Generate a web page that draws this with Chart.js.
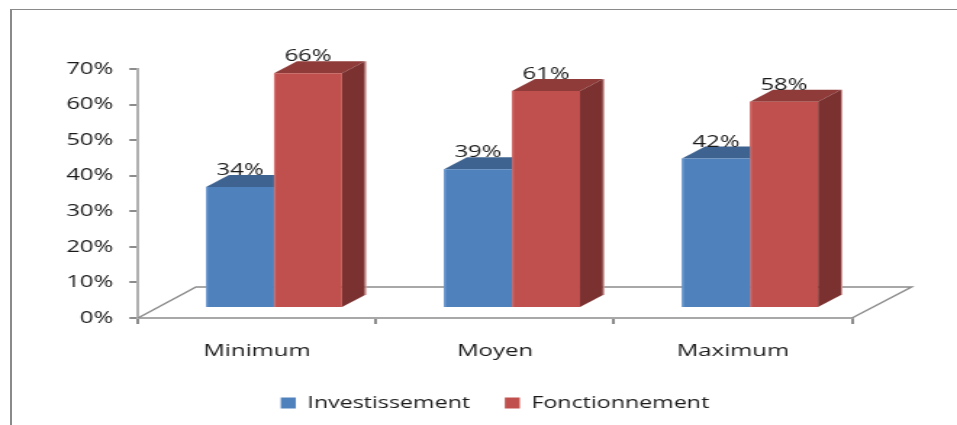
<!DOCTYPE html>
<html>
<head>
<meta charset="utf-8">
<script src="https://cdn.jsdelivr.net/npm/chart.js@4"></script>
<style>
  html, body { margin: 0; padding: 0; background: #fff; }
  #wrap { position: relative; width: 957px; height: 425px; overflow: hidden; }
  #frame { position: absolute; left: 10px; top: 9px; width: 947px; height: 416px;
           border-left: 2px solid #8a8a8a; border-top: 1px solid #8a8a8a; box-sizing: border-box; }
  /* l'original est étiré en largeur : on étire le canvas de la même façon */
  canvas { position: absolute; left: 0; top: 0; transform: scale(1.45, 1); transform-origin: 0 0; }
</style>
</head>
<body>
<div id="wrap">
  <div id="frame"></div>
  <canvas id="chart" width="660" height="425"></canvas>
</div>
<script>
// Données
const categories = ['Minimum', 'Moyen', 'Maximum'];
const investissement = [34, 39, 42];
const fonctionnement = [66, 61, 58];

const BLUE = '#4f81bd', RED = '#c0504d';
const faces = {
  [BLUE]: { top: '#3f6390', side: '#3a5c86', edge: '#6f9bd0' },
  [RED]: { top: '#8f3b39', side: '#7a3130', edge: '#d26c69' }
};
const FONT = 'Open Sans';
const SX = 1.45; // étirement horizontal du canvas

// Décalage des barres par rapport au plancher, et profondeur du 3D
const shiftX = 17 / SX, shiftY = -10;
const depthX = 23 / SX, depthY = 12;
const floorX = 58 / SX, floorY = 31;

const pseudo3d = {
  id: 'pseudo3d',
  beforeDatasetsDraw(chart) {
    const { ctx, chartArea: a } = chart;
    // plancher
    ctx.save();
    ctx.strokeStyle = '#8c8c8c';
    ctx.lineWidth = 1.5;
    ctx.beginPath();
    ctx.moveTo(a.left, a.bottom);
    ctx.lineTo(a.left + floorX, a.bottom - floorY);
    ctx.lineTo(a.right + floorX + 1, a.bottom - floorY);
    ctx.lineTo(a.right, a.bottom);
    ctx.stroke();
    ctx.restore();
    ctx.save();
    ctx.translate(shiftX, shiftY);
  },
  beforeDatasetDraw(chart, args) {
    const { ctx } = chart;
    const color = chart.data.datasets[args.index].backgroundColor;
    const f = faces[color];
    // seule la dernière série du groupe montre son côté, les autres sont cachées par leur voisine
    const last = args.index === chart.data.datasets.length - 1;
    args.meta.data.forEach(bar => {
      const l = bar.x - bar.width / 2, r = bar.x + bar.width / 2;
      ctx.fillStyle = f.top;
      ctx.beginPath();
      ctx.moveTo(l, bar.y);
      ctx.lineTo(l + depthX, bar.y - depthY);
      ctx.lineTo(last ? r + depthX : r, bar.y - depthY);
      ctx.lineTo(r, bar.y);
      ctx.closePath();
      ctx.fill();
      if (last) {
        ctx.fillStyle = f.side;
        ctx.beginPath();
        ctx.moveTo(r, bar.y);
        ctx.lineTo(r + depthX, bar.y - depthY);
        ctx.lineTo(r + depthX, bar.base - depthY);
        ctx.lineTo(r, bar.base);
        ctx.closePath();
        ctx.fill();
        // liseré clair à droite
        ctx.fillStyle = '#cf9a98';
        ctx.fillRect(r + depthX, bar.y - depthY, 1, bar.base - bar.y);
      }
    });
  },
  afterDatasetDraw(chart, args) {
    const { ctx } = chart;
    const color = chart.data.datasets[args.index].backgroundColor;
    args.meta.data.forEach(bar => {
      ctx.fillStyle = faces[color].edge;
      ctx.fillRect(bar.x - bar.width / 2, bar.y, 1.2, bar.base - bar.y);
    });
  },
  afterDatasetsDraw(chart) {
    const { ctx } = chart;
    // étiquettes de valeur
    ctx.font = '16.5px "' + FONT + '"';
    ctx.fillStyle = '#1a1a1a';
    ctx.textAlign = 'center';
    ctx.textBaseline = 'alphabetic';
    chart.data.datasets.forEach((ds, i) => {
      chart.getDatasetMeta(i).data.forEach((bar, j) => {
        ctx.fillText(ds.data[j] + '%', bar.x, bar.y - depthY);
      });
    });
    ctx.restore();
  }
};

new Chart(document.getElementById('chart'), {
  type: 'bar',
  data: {
    labels: categories,
    datasets: [
      { label: 'Investissement', data: investissement, backgroundColor: BLUE, clip: false },
      { label: 'Fonctionnement', data: fonctionnement, backgroundColor: RED, clip: false }
    ]
  },
  options: {
    responsive: false,
    animation: false,
    barPercentage: 1,
    categoryPercentage: 0.5714,
    layout: { padding: { left: 0, right: 105 / SX, top: 69, bottom: 4 } },
    scales: {
      x: {
        grid: { drawOnChartArea: false, color: '#8c8c8c', lineWidth: 2, tickLength: 6 },
        border: { color: '#a8a8a8', width: 2 },
        ticks: { color: '#1a1a1a', font: { family: FONT, size: 16.5 }, padding: 17, maxRotation: 0 },
        afterFit(scale) { scale.height = 53; }
      },
      y: {
        min: 0,
        max: 70,
        grid: { drawOnChartArea: false, color: '#8c8c8c', lineWidth: 2, tickLength: 6 },
        border: { color: '#b0b0b0', width: 2 },
        ticks: {
          stepSize: 10,
          color: '#1a1a1a',
          font: { family: FONT, size: 16.5 },
          padding: 11,
          callback: v => v + '%'
        },
        afterFit(scale) { scale.width = 138 / SX; }
      }
    },
    plugins: {
      tooltip: { enabled: false },
      legend: {
        position: 'bottom',
        fullSize: false,
        labels: {
          boxWidth: 15 / SX,
          boxHeight: 11,
          padding: 24,
          color: '#1a1a1a',
          font: { family: FONT, size: 16 }
        }
      }
    }
  },
  plugins: [pseudo3d]
});
</script>
</body>
</html>
